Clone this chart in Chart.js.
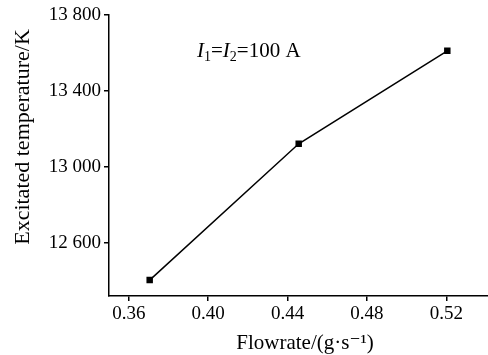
<!DOCTYPE html>
<html>
<head>
<meta charset="utf-8">
<script src="https://cdn.jsdelivr.net/npm/chart.js@4.4.1/dist/chart.umd.min.js"></script>
<style>
html,body{margin:0;padding:0;background:#fff;}
#wrap{width:488px;height:355px;position:relative;}
</style>
</head>
<body>
<div id="wrap"><canvas id="c"></canvas></div>
<script>
const flowrate = [0.3705, 0.4456, 0.5205];
const temperature = [12402, 13121, 13611];
const yTicks = [12600, 13000, 13400, 13800];
const xTicks = [0.36, 0.40, 0.44, 0.48, 0.52];
const xTitle = 'Flowrate/(g·s⁻¹)';
const yTitle = 'Excitated temperature/K';

const FONT = "'Liberation Serif', 'DejaVu Serif', serif";

const texts = {
  id: 'texts',
  afterDraw(chart) {
    const ctx = chart.ctx;
    ctx.save();
    ctx.fillStyle = '#000';
    ctx.textBaseline = 'alphabetic';
    // annotation
    let x = 197, y = 57;
    const parts = [
      ['I', 'italic 21px ' + FONT, 0],
      ['1', '14px ' + FONT, 4],
      ['=', '21px ' + FONT, 0],
      ['I', 'italic 21px ' + FONT, 0],
      ['2', '14px ' + FONT, 4],
      ['=100 A', '21px ' + FONT, 0]
    ];
    for (const [t, f, dy] of parts) {
      ctx.font = f;
      ctx.fillText(t, x, y + dy);
      x += ctx.measureText(t).width;
    }
    // x title
    ctx.font = '21px ' + FONT;
    ctx.textAlign = 'center';
    ctx.fillText(xTitle, 305, 349);
    // y title
    ctx.save();
    ctx.translate(29, 137);
    ctx.rotate(-Math.PI / 2);
    ctx.font = '22px ' + FONT;
    ctx.textAlign = 'center';
    ctx.fillText(yTitle, 0, 0);
    ctx.restore();
    ctx.restore();
  }
};

new Chart(document.getElementById('c'), {
  type: 'scatter',
  data: {
    datasets: [{
      data: flowrate.map((v, i) => ({x: v, y: temperature[i]})),
      showLine: true,
      borderColor: '#000',
      backgroundColor: '#000',
      borderWidth: 1.5,
      pointStyle: 'rect',
      pointRadius: 3.5,
      pointHoverRadius: 3.5,
      tension: 0
    }]
  },
  options: {
    responsive: true,
    maintainAspectRatio: false,
    animation: false,
    events: [],
    layout: {autoPadding: false, padding: {left: 0, right: 0, top: 15, bottom: 0}},
    plugins: {legend: {display: false}, tooltip: {enabled: false}},
    scales: {
      x: {
        type: 'linear',
        min: 0.35,
        max: 0.541,
        afterBuildTicks: s => { s.ticks = xTicks.map(v => ({value: v})); },
        afterFit: s => { s.paddingRight = 0; s.paddingLeft = 0; s.height = 59; },
        ticks: {
          color: '#000',
          font: {family: FONT, size: 19},
          padding: 2,
          maxRotation: 0,
          callback: v => v.toFixed(2)
        },
        grid: {display: true, drawOnChartArea: false, drawTicks: true, tickLength: 5, color: '#000', lineWidth: 1.5},
        border: {display: true, color: '#000', width: 1.5}
      },
      y: {
        type: 'linear',
        min: 12318,
        max: 13800,
        afterBuildTicks: s => { s.ticks = yTicks.map(v => ({value: v})); },
        afterFit: s => { s.width = 109; s.paddingTop = 0; s.paddingBottom = 0; },
        ticks: {
          color: '#000',
          font: {family: FONT, size: 19},
          padding: 3,
          callback: v => String(v).replace(/(\d)(\d{3})$/, '$1 $2')
        },
        grid: {display: true, drawOnChartArea: false, drawTicks: true, tickLength: 5, color: '#000', lineWidth: 1.5},
        border: {display: true, color: '#000', width: 1.5}
      }
    }
  },
  plugins: [texts]
});
</script>
</body>
</html>
